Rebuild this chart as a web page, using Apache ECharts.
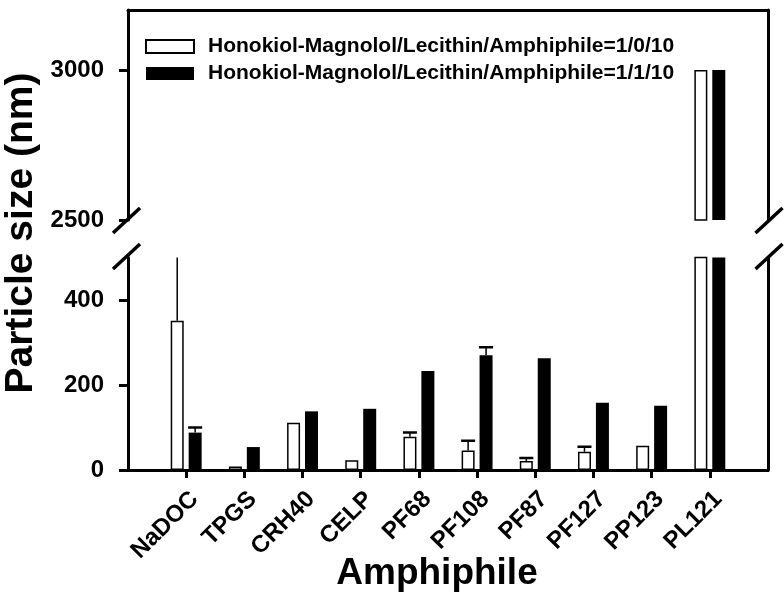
<!DOCTYPE html>
<html><head><meta charset="utf-8">
<script src="https://cdn.jsdelivr.net/npm/echarts@6/dist/echarts.min.js"></script>
<style>html,body{margin:0;padding:0;background:#fff}#c{width:784px;height:597px}</style>
</head><body><div id="c"></div>
<script>
// ---- data ----
const categories = ['NaDOC','TPGS','CRH40','CELP','PF68','PF108','PF87','PF127','PP123','PL121'];
const seriesNames = ['Honokiol-Magnolol/Lecithin/Amphiphile=1/0/10','Honokiol-Magnolol/Lecithin/Amphiphile=1/1/10'];
const size_1_0_10 = [351, 8, 111, 23, 78, 46, 21, 43, 57, 3000];
const err_1_0_10  = [155, 0, 0, 0, 10, 23, 7, 12, 0, 0];
const size_1_1_10 = [88, 54, 138, 144, 233, 270, 263, 158, 151, 3000];
const err_1_1_10  = [12, 0, 0, 0, 0, 19, 0, 0, 0, 0];
const upperTicks = [2500, 3000];
const lowerTicks = [0, 200, 400];
const upperRange = [2500, 3200];
const lowerRange = [0, 500];
const xTitle = 'Amphiphile';
const yTitle = 'Particle size (nm)';

// ---- layout ----
const W = 784, H = 597;
const L = 128, R = 768;
const upTop = 10, upBot = 220, loTop = 257.5, loBot = 470;
const FONT = '"Liberation Sans", Arial, sans-serif';
const BW = 13, GAP = 0.38;
const OFF = BW * (1 + GAP) / 2;

const padCats = [''].concat(categories, ['']);
const pad = a => [null].concat(a, [null]);

function errSeries(vals, errs, dir) {
  return {
    type: 'custom', xAxisIndex: 1, yAxisIndex: 2, clip: true, z: 5,
    data: vals.map((v, i) => [i + 1, v, errs[i]]),
    renderItem: function (params, api) {
      const e = api.value(2);
      if (!e) return null;
      const x = api.value(0), v = api.value(1);
      const p0 = api.coord([x, v]);
      const p1 = api.coord([x, v + e]);
      const cx = p0[0] + dir * OFF;
      return { type: 'group', children: [
        { type: 'line', shape: { x1: cx, y1: p0[1], x2: cx, y2: p1[1] }, style: { stroke: '#000', lineWidth: 1.5 } },
        { type: 'line', shape: { x1: cx - BW / 2 - 0.5, y1: p1[1], x2: cx + BW / 2 + 0.5, y2: p1[1] }, style: { stroke: '#000', lineWidth: 2.5 } }
      ]};
    }
  };
}

const whiteStyle = { color: '#fff', borderColor: '#000', borderWidth: 1.5 };
const blackStyle = { color: '#000', borderColor: '#000', borderWidth: 0 };

const axisLineStyle = { color: '#000', width: 3 };

function yAx(grid, range, ticks, side) {
  const main = side === 'left';
  return {
    type: 'value', gridIndex: grid, position: side, min: range[0], max: range[1],
    axisLine: { show: true, lineStyle: axisLineStyle },
    axisTick: { show: main, length: 9, lineStyle: { color: '#000', width: 3 }, customValues: ticks },
    axisLabel: { show: main, customValues: ticks, formatter: v => String(v), margin: 24, fontSize: 24, fontWeight: 'bold', fontFamily: FONT, color: '#000' },
    splitLine: { show: false }
  };
}

function slash(cx, cy) {
  return { type: 'line', shape: { x1: cx - 13.5, y1: cy + 12.5, x2: cx + 13.5, y2: cy - 12.5 },
           style: { stroke: '#000', lineWidth: 3.5 }, z: 100 };
}

const chart = echarts.init(document.getElementById('c'));
chart.setOption({
  animation: false,
  backgroundColor: '#fff',
  grid: [
    { left: L, right: W - R, top: upTop, height: upBot - upTop, outerBoundsMode: 'none', containLabel: false },
    { left: L, right: W - R, top: loTop, height: loBot - loTop, outerBoundsMode: 'none', containLabel: false }
  ],
  legend: {
    data: seriesNames.map(n => ({ name: n, icon: 'rect' })),
    orient: 'vertical', left: 140, top: 31, itemWidth: 48, itemHeight: 13, itemGap: 6,
    textStyle: { fontSize: 21, fontWeight: 'bold', fontFamily: FONT, color: '#000', padding: [0, 0, 0, 9] }
  },
  xAxis: [
    { type: 'category', gridIndex: 0, data: padCats, boundaryGap: false, position: 'top',
      axisLine: { show: true, onZero: false, lineStyle: axisLineStyle },
      axisTick: { show: false }, axisLabel: { show: false }, splitLine: { show: false } },
    { type: 'category', gridIndex: 1, data: padCats, boundaryGap: false, position: 'bottom',
      axisLine: { show: true, onZero: false, lineStyle: axisLineStyle },
      axisTick: { show: true, length: 8, lineStyle: { color: '#000', width: 3 }, interval: (i, v) => v !== '' },
      axisLabel: { interval: 0, rotate: 45, margin: 17, verticalAlign: 'top', fontSize: 24, fontWeight: 'bold', fontFamily: FONT, color: '#000' },
      splitLine: { show: false } }
  ],
  yAxis: [
    yAx(0, upperRange, upperTicks, 'left'),
    yAx(0, upperRange, upperTicks, 'right'),
    yAx(1, lowerRange, lowerTicks, 'left'),
    yAx(1, lowerRange, lowerTicks, 'right')
  ],
  series: [
    { name: seriesNames[0], type: 'bar', xAxisIndex: 0, yAxisIndex: 0, data: pad(size_1_0_10), barWidth: BW, barGap: (GAP * 100) + '%', itemStyle: whiteStyle },
    { name: seriesNames[1], type: 'bar', xAxisIndex: 0, yAxisIndex: 0, data: pad(size_1_1_10), barWidth: BW, barGap: (GAP * 100) + '%', itemStyle: blackStyle },
    { name: seriesNames[0], type: 'bar', xAxisIndex: 1, yAxisIndex: 2, data: pad(size_1_0_10), barWidth: BW, barGap: (GAP * 100) + '%', itemStyle: whiteStyle },
    { name: seriesNames[1], type: 'bar', xAxisIndex: 1, yAxisIndex: 2, data: pad(size_1_1_10), barWidth: BW, barGap: (GAP * 100) + '%', itemStyle: blackStyle },
    errSeries(size_1_0_10, err_1_0_10, -1),
    errSeries(size_1_1_10, err_1_1_10, 1)
  ],
  graphic: [
    slash(L - 1.5, upBot + 0.5), slash(L - 1.5, loTop - 1),
    slash(R + 1, upBot + 0.5), slash(R + 1, loTop - 1),
    { type: 'text', x: 21, y: 233, rotation: Math.PI / 2,
      style: { text: yTitle, fontSize: 39, fontWeight: 'bold', fontFamily: FONT, fill: '#000', align: 'center', verticalAlign: 'middle' } },
    { type: 'text', x: 437, y: 574,
      style: { text: xTitle, fontSize: 37, fontWeight: 'bold', fontFamily: FONT, fill: '#000', align: 'center', verticalAlign: 'middle' } }
  ]
});
</script>
</body></html>
